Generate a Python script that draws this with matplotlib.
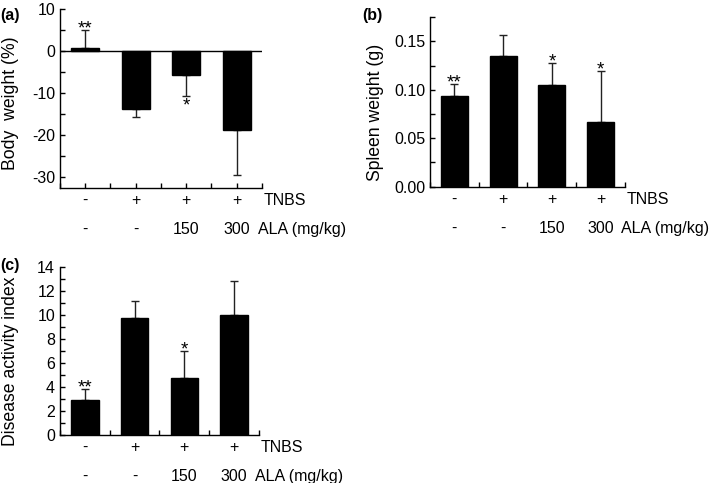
import matplotlib
matplotlib.use("Agg")
import matplotlib.pyplot as plt
from matplotlib.ticker import MultipleLocator, FormatStrFormatter

plt.rcParams['font.family'] = ['Liberation Sans', 'DejaVu Sans']
plt.rcParams['font.size'] = 11.5
plt.rcParams['axes.unicode_minus'] = False

groups = [1, 2, 3, 4]
tnbs = ['-', '+', '+', '+']
ala = ['-', '-', '150', '300']

# body weight change (%)
body_mean = [0.8, -13.8, -5.7, -18.8]
body_err = [4.2, 1.9, 5.0, 10.7]
body_sig = ['**', '', '*', '']

# spleen weight (g)
spleen_mean = [0.094, 0.135, 0.105, 0.067]
spleen_err = [0.012, 0.022, 0.023, 0.052]
spleen_sig = ['**', '', '*', '*']

# disease activity index
dai_mean = [2.9, 9.7, 4.77, 10.0]
dai_err = [0.95, 1.45, 2.25, 2.8]
dai_sig = ['**', '', '*', '']


def draw_panel(ax, mean, err, sig, ylim, major, minor, ylabel, labelpos):
    ax.bar(groups, mean, width=0.55, color='black', edgecolor='black', zorder=2)
    lo = [e if m < 0 else 0 for m, e in zip(mean, err)]
    hi = [e if m >= 0 else 0 for m, e in zip(mean, err)]
    ax.errorbar(groups, mean, yerr=[lo, hi], fmt='none', ecolor='#222222',
                elinewidth=1.0, capsize=3, capthick=1.0, zorder=1)
    for x, m, e, s in zip(groups, mean, err, sig):
        if not s:
            continue
        if m >= 0:
            ax.annotate(s, (x, m + e), xytext=(0, -2.5), textcoords='offset points',
                        ha='center', va='baseline', fontsize=13.5)
        else:
            ax.annotate(s, (x, m - e), xytext=(0, -10.5), textcoords='offset points',
                        ha='center', va='baseline', fontsize=13.5)
    ax.set_xlim(0.5, 4.5)
    ax.set_ylim(*ylim)
    ax.yaxis.set_major_locator(MultipleLocator(major))
    ax.yaxis.set_minor_locator(MultipleLocator(minor))
    ax.set_xticks([0.5 + 0.5 * i for i in range(9)])
    ax.set_xticklabels([])
    ax.tick_params(axis='both', which='both', direction='in', length=3.5, width=1, pad=3.5)
    for side in ['top', 'right']:
        ax.spines[side].set_visible(False)
    for side in ['left', 'bottom']:
        ax.spines[side].set_linewidth(1.0)
    ax.set_ylabel(ylabel, fontsize=12.7)
    ax.yaxis.set_label_coords(*labelpos)
    for x, t, a in zip(groups, tnbs, ala):
        ax.annotate(t, (x, 0), xycoords=('data', 'axes fraction'), xytext=(0, -9),
                    textcoords='offset points', ha='center', va='center', fontsize=11.5)
        ax.annotate(a, (x, 0), xycoords=('data', 'axes fraction'), xytext=(0, -30),
                    textcoords='offset points', ha='center', va='center', fontsize=11.5)
    ax.annotate('TNBS', (4.5, 0), xycoords=('data', 'axes fraction'), xytext=(1, -9),
                textcoords='offset points', ha='left', va='center', fontsize=11.5)
    ax.annotate('ALA (mg/kg)', (4.5, 0), xycoords=('data', 'axes fraction'), xytext=(-3, -30),
                textcoords='offset points', ha='left', va='center', fontsize=11.5)
    return ax


fig = plt.figure(figsize=(7.09, 4.83), dpi=100)

ax1 = fig.add_axes([0.0846, 0.6108, 0.2849, 0.3706])
draw_panel(ax1, body_mean, body_err, body_sig, (-32.6, 10), 10, 5,
           'Body  weight (%)', (-0.203, 0.475))
ax1.axhline(0, color='black', lw=1.0, zorder=3)

ax2 = fig.add_axes([0.6065, 0.6135, 0.2750, 0.3507])
draw_panel(ax2, spleen_mean, spleen_err, spleen_sig, (0, 0.175), 0.05, 0.025,
           'Spleen weight (g)', (-0.236, 0.44))
ax2.yaxis.set_major_formatter(FormatStrFormatter('%.2f'))

ax3 = fig.add_axes([0.0846, 0.0994, 0.2807, 0.3484])
draw_panel(ax3, dai_mean, dai_err, dai_sig, (0, 14), 2, 1,
           'Disease activity index', (-0.206, 0.44))

fig.text(0.0, 0.983, '(a)', fontweight='bold', fontsize=11.5, va='top', ha='left')
fig.text(0.511, 0.983, '(b)', fontweight='bold', fontsize=11.5, va='top', ha='left')
fig.text(0.0, 0.466, '(c)', fontweight='bold', fontsize=11.5, va='top', ha='left')

fig.savefig('out.png', dpi=100)
